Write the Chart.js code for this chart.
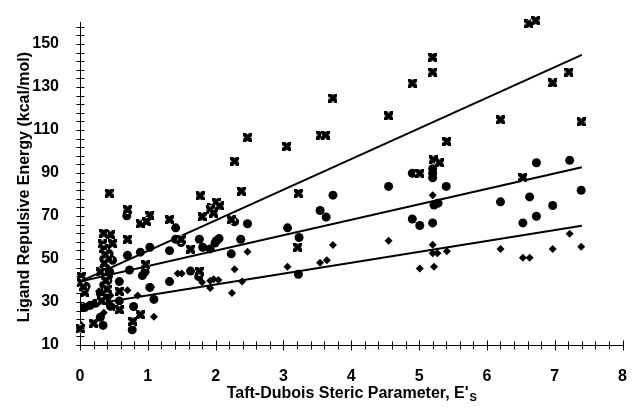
<!DOCTYPE html>
<html>
<head>
<meta charset="utf-8">
<script src="https://cdn.jsdelivr.net/npm/chart.js@4.4.1/dist/chart.umd.min.js"></script>
<style>
  html, body { margin: 0; padding: 0; background: #fff; }
  canvas { display: block; }
</style>
</head>
<body>
<canvas id="stericChart" width="641" height="407"></canvas>
<script>
// values
const crossX = [0.43, 0.70, 0.89, 1.03, 0.98, 1.32, 0.45, 0.48, 0.70, 0.33, 0.35, 0.97, 0.02, 0.07, 0.58, 0.58, 0.20, 0.89, 0.78, 0.00, 0.30, 0.38, 0.36, 0.40, 0.32, 0.02, 0.05, 0.35, 0.42, 0.37, 2.28, 1.77, 2.38, 2.01, 1.94, 2.06, 1.92, 1.97, 1.80, 2.23, 1.49, 1.63, 3.22, 3.21, 1.76, 4.55, 3.55, 3.62, 3.73, 4.90, 5.20, 5.20, 3.05, 2.47, 5.01, 5.21, 5.30, 6.53, 6.62, 6.72, 6.97, 7.21, 6.20, 7.39, 5.41];
const crossY = [80.7, 73.0, 66.4, 70.4, 67.5, 68.4, 61.3, 57.3, 59.2, 57.0, 54.7, 47.4, 42.0, 34.5, 35.0, 26.4, 20.1, 24.1, 21.0, 17.6, 44.0, 40.0, 48.0, 36.0, 30.5, 39.0, 37.0, 62.0, 50.0, 52.0, 95.5, 79.4, 81.6, 76.5, 74.0, 74.7, 72.9, 71.4, 69.7, 68.3, 59.2, 54.6, 80.6, 55.5, 44.4, 116.6, 107.7, 107.7, 124.9, 131.8, 143.9, 137.0, 102.4, 106.5, 89.9, 96.2, 94.8, 88.0, 159.5, 161.0, 131.9, 137.0, 114.8, 113.8, 104.7];

const circleX = [0.69, 1.41, 1.41, 1.03, 0.89, 0.70, 0.43, 0.48, 1.32, 0.73, 0.96, 0.92, 0.58, 0.09, 1.03, 0.79, 1.09, 0.23, 0.07, 0.58, 0.30, 0.34, 0.77, 0.38, 0.42, 0.35, 0.40, 0.45, 0.30, 0.15, 0.35, 0.38, 0.33, 0.41, 0.36, 0.44, 0.39, 2.28, 2.47, 3.06, 3.23, 1.76, 2.05, 2.01, 1.99, 2.37, 1.81, 1.92, 1.49, 2.23, 1.63, 1.75, 1.32, 3.22, 3.73, 3.54, 3.63, 4.55, 4.90, 5.20, 5.20, 5.20, 4.90, 5.01, 5.20, 5.22, 5.28, 6.73, 7.22, 5.40, 7.39, 6.20, 6.63, 6.97, 6.73, 6.53];
const circleY = [70.1, 64.5, 59.2, 55.5, 53.2, 51.7, 52.4, 49.4, 53.9, 44.9, 44.1, 42.3, 39.5, 37.3, 36.8, 27.9, 31.2, 29.4, 27.4, 30.5, 22.9, 19.1, 17.1, 46.0, 42.0, 38.0, 33.5, 28.0, 34.0, 28.5, 50.0, 55.0, 45.0, 40.0, 35.0, 44.0, 31.0, 67.3, 66.4, 64.5, 60.0, 59.2, 59.5, 58.5, 57.4, 59.2, 55.5, 54.7, 57.7, 52.4, 44.4, 41.8, 39.5, 42.9, 79.7, 72.6, 69.5, 83.8, 89.9, 92.0, 89.9, 87.8, 68.6, 65.6, 66.8, 75.1, 76.0, 94.8, 95.9, 83.8, 82.0, 76.6, 78.9, 74.9, 69.9, 66.8];

const diamondX = [0.70, 1.32, 1.09, 0.00, 0.02, 0.15, 0.35, 0.40, 0.45, 0.28, 0.50, 0.85, 1.05, 1.44, 1.50, 1.80, 1.92, 1.97, 2.04, 1.92, 2.39, 2.24, 2.28, 2.47, 3.06, 3.23, 3.73, 3.54, 3.64, 4.55, 5.20, 5.20, 5.20, 5.27, 5.41, 5.01, 5.22, 6.20, 6.53, 6.63, 6.97, 7.22, 7.39];
const diamondY = [35.5, 39.5, 23.2, 19.9, 27.7, 28.0, 25.0, 30.0, 33.0, 35.0, 27.5, 33.0, 37.0, 43.3, 43.3, 39.2, 39.9, 40.6, 40.3, 36.5, 39.5, 34.2, 45.3, 53.4, 46.4, 43.3, 56.5, 48.3, 49.4, 58.5, 79.7, 56.7, 52.7, 52.7, 53.6, 45.6, 46.4, 54.7, 50.6, 50.6, 54.7, 61.8, 55.7];

// least-squares lines (end points)
const fitX = [0, 7.4];
const crossFitY = [39.5, 145];
const circleFitY = [39.5, 92.7];
const diamondFitY = [28, 65.5];

// axes
const yLabels = [10, 30, 50, 70, 90, 110, 130, 150];
const yMinorStep = 4;
const xLabels = [0, 1, 2, 3, 4, 5, 6, 7, 8];
const xMinorStep = 0.2;

const yTitle = "Ligand Repulsive Energy (kcal/mol)";
const xTitle = "Taft-Dubois Steric Parameter, E'";
const xTitleSub = "S";

const FONT = "'Liberation Sans', Arial, sans-serif";

function pairs(xs, ys) {
  return xs.map((x, i) => ({ x: x, y: ys[i] }));
}

function minorTicks(min, max, step) {
  const out = [];
  for (let v = min; v <= max + 1e-9; v += step) out.push({ value: Math.round(v * 1000) / 1000 });
  return out;
}

// boxed-x marker used for the first series
function makeCrossMark(size) {
  const c = document.createElement("canvas");
  c.width = size;
  c.height = size;
  const g = c.getContext("2d");
  g.fillStyle = "#000";
  g.fillRect(0, 0, size, size);
  g.fillStyle = "#fff";
  const m = size / 2, d = 1.6;
  g.beginPath();
  g.moveTo(m - d, 0); g.lineTo(m + d, 0); g.lineTo(m, d); g.closePath();
  g.moveTo(m - d, size); g.lineTo(m + d, size); g.lineTo(m, size - d); g.closePath();
  g.moveTo(0, m - d); g.lineTo(0, m + d); g.lineTo(d, m); g.closePath();
  g.moveTo(size, m - d); g.lineTo(size, m + d); g.lineTo(size - d, m); g.closePath();
  g.fill();
  return c;
}

const crossTicks = {
  id: "crossTicks",
  afterDraw(chart) {
    const ctx = chart.ctx;
    const xs = chart.scales.x, ys = chart.scales.y;
    const ax = Math.round(xs.left) + 0.5;
    const ay = Math.round(ys.bottom) + 0.5;
    ctx.save();
    ctx.strokeStyle = "#000";
    ctx.lineWidth = 1;
    ctx.beginPath();
    ys.ticks.forEach((t) => {
      const py = Math.round(ys.getPixelForValue(t.value)) + 0.5;
      ctx.moveTo(ax - 4, py);
      ctx.lineTo(ax + 4, py);
    });
    xs.ticks.forEach((t) => {
      const px = Math.round(xs.getPixelForValue(t.value)) + 0.5;
      const h = xLabels.includes(t.value) ? 5 : 4;
      ctx.moveTo(px, ay - h);
      ctx.lineTo(px, ay + h);
    });
    ctx.stroke();

    // axis titles
    ctx.fillStyle = "#000";
    ctx.font = "bold 16px " + FONT;
    const w1 = ctx.measureText(xTitle).width;
    ctx.font = "bold 11px " + FONT;
    const w2 = ctx.measureText(xTitleSub).width;
    const cx = (xs.left + xs.right) / 2;
    const x0 = cx - (w1 + w2) / 2;
    ctx.textBaseline = "alphabetic";
    ctx.textAlign = "left";
    ctx.font = "bold 16px " + FONT;
    ctx.fillText(xTitle, x0, 398);
    ctx.font = "bold 11px " + FONT;
    ctx.fillText(xTitleSub, x0 + w1 + 1, 401);

    ctx.translate(25, 187);
    ctx.rotate(-Math.PI / 2);
    ctx.textAlign = "center";
    ctx.textBaseline = "middle";
    ctx.font = "bold 16px " + FONT;
    ctx.fillText(yTitle, 0, 0);
    ctx.restore();
  },
};

const ctx = document.getElementById("stericChart").getContext("2d");
const crossMark = makeCrossMark(9);

const fitLine = (ys) => ({
  type: "line",
  data: pairs(fitX, ys),
  borderColor: "#000",
  borderWidth: 2,
  pointRadius: 0,
  fill: false,
});

new Chart(ctx, {
  type: "scatter",
  data: {
    datasets: [
      {
        data: pairs(crossX, crossY),
        pointStyle: crossMark,
        pointRadius: 4.5,
        clip: false,
      },
      {
        data: pairs(circleX, circleY),
        pointStyle: "circle",
        pointRadius: 4.5,
        backgroundColor: "#000",
        borderWidth: 0,
      },
      {
        data: pairs(diamondX, diamondY),
        pointStyle: "rectRot",
        pointRadius: 4,
        backgroundColor: "#000",
        borderWidth: 0,
      },
      fitLine(crossFitY),
      fitLine(circleFitY),
      fitLine(diamondFitY),
    ],
  },
  options: {
    responsive: false,
    animation: false,
    devicePixelRatio: 1,
    layout: { padding: { left: 0, right: 5, top: 15, bottom: 0 } },
    plugins: { legend: { display: false }, tooltip: { enabled: false } },
    scales: {
      x: {
        type: "linear",
        min: 0,
        max: 8,
        grid: { display: false },
        border: { display: true, color: "#000", width: 1 },
        afterBuildTicks: (scale) => { scale.ticks = minorTicks(0, 8, xMinorStep); },
        ticks: {
          autoSkip: false,
          maxRotation: 0,
          padding: 14,
          color: "#000",
          font: { family: FONT, size: 16, weight: "bold" },
          callback: (v) => (xLabels.includes(v) ? v : ""),
        },
        afterFit: (scale) => { scale.height = 62; },
      },
      y: {
        type: "linear",
        min: 10,
        max: 160,
        grid: { display: false },
        border: { display: true, color: "#000", width: 1 },
        afterBuildTicks: (scale) => { scale.ticks = minorTicks(10, 158, yMinorStep); },
        ticks: {
          autoSkip: false,
          padding: 13,
          color: "#000",
          font: { family: FONT, size: 16, weight: "bold" },
          callback: (v) => (yLabels.includes(v) ? v : ""),
        },
        afterFit: (scale) => { scale.width = 80; },
      },
    },
  },
  plugins: [crossTicks],
});
</script>
</body>
</html>
